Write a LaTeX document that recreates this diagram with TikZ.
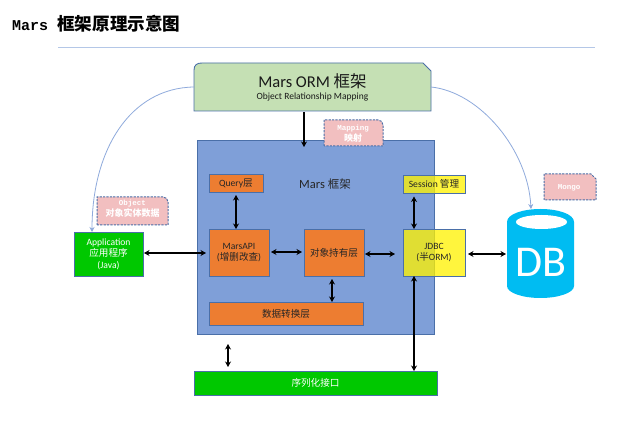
\documentclass[tikz,border=0pt]{standalone}
\usepackage{fontspec}
\setmainfont{Carlito}
\setmonofont{Liberation Mono}
\newfontfamily\cjk{Noto Sans CJK SC}
\usetikzlibrary{arrows.meta,calc}
\definecolor{edgeblue}{HTML}{4A6FA8}
\definecolor{lineblue}{HTML}{8FAADC}
\definecolor{rulecol}{HTML}{B4C7E7}
\definecolor{mainblue}{HTML}{7F9FD8}
\definecolor{ormgreen}{HTML}{C5E0B4}
\definecolor{orangefill}{HTML}{ED7D31}
\definecolor{greenfill}{HTML}{00C800}
\definecolor{pinkfill}{HTML}{F2BFC0}
\definecolor{dbblue}{HTML}{00BCF2}
\tikzset{
  x=1pt,y=-1pt,
  box/.style={draw=edgeblue,line width=0.9pt,anchor=north west,outer sep=0pt,inner sep=0pt,align=center,font=\fontsize{9.6}{11.5}\selectfont},
  orangebox/.style={box,fill=orangefill,text=black!85},
  yellowbox/.style={box,fill=yellow,fill opacity=.76,text opacity=1,text=black!85},
  greenbox/.style={box,fill=greenfill,text=white},
  callout/.style={draw=edgeblue,line width=1pt,dash pattern=on 2.2pt off 1.2pt,fill=pinkfill},
  noteb/.style={inner sep=0pt,align=center,text=white,font=\fontsize{7.5}{11}\ttfamily\bfseries},
  dbl/.style={{Stealth[length=5.5pt,width=6pt]}-{Stealth[length=5.5pt,width=6pt]},line width=1.6pt,black},
  sgl/.style={-{Stealth[length=5.5pt,width=6pt]},line width=1.6pt,black},
  curvy/.style={draw=lineblue,line width=0.8pt,-{Stealth[length=5pt,width=5pt,fill=edgeblue!80!lineblue]}},
}
\begin{document}
\begin{tikzpicture}
\useasboundingbox (0,0) rectangle (643,438);
\fill[white] (0,0) rectangle (643,438);
% title
\node[anchor=west,inner sep=0pt,font=\fontsize{15}{18}\ttfamily\bfseries] (title) at (12,24) {Mars {\cjk\bfseries\fontsize{17.6}{18}\selectfont 框架原理示意图}};
\coordinate (ruleL) at (58,47.5); \coordinate (ruleR) at (595,47.5);
\draw[rulecol,line width=1.1pt] (ruleL) -- (ruleR);
% main
\node[box,fill=mainblue,minimum width=237.5pt,minimum height=194pt] (main) at (197,140) {};
\node[inner sep=0pt,font=\fontsize{12.5}{14}\selectfont,text=black!85] (mainT) at (325,184) {Mars {\cjk\fontsize{11.5}{14}\selectfont 框架}};
% ORM
\draw[draw=edgeblue,line width=0.9pt,fill=ormgreen] (194,111) -- (194,70) .. controls (194,65) and (197,63) .. (202,63) -- (423,63) -- (431,71) -- (431,111) -- cycle;
\node[inner sep=0pt,outer sep=0pt,minimum width=237pt,minimum height=48pt,align=center,text=black!90] (orm) at (312.5,87) {\fontsize{16.5}{19}\selectfont Mars ORM {\cjk 框架}\\[0pt]\fontsize{9.5}{11}\selectfont Object Relationship Mapping};
% inner boxes
\node[orangebox,minimum width=54pt,minimum height=18pt] (query) at (209,174) {Query{\cjk 层}};
\node[orangebox,minimum width=60pt,minimum height=47pt] (api) at (209,229) {MarsAPI\\({\cjk 增删改查})};
\node[orangebox,minimum width=60pt,minimum height=47pt] (hold) at (304,229) {\cjk 对象持有层};
\node[orangebox,minimum width=154pt,minimum height=23pt] (conv) at (209,302) {\cjk 数据转换层};
\node[yellowbox,minimum width=62pt,minimum height=18.5pt] (sess) at (403,175) {Session {\cjk 管理}};
\node[yellowbox,minimum width=62pt,minimum height=47pt] (jdbc) at (403,229) {JDBC\\({\cjk 半}ORM)};
\node[greenbox,minimum width=243pt,minimum height=24pt] (ser) at (194,371) {\cjk 序列化接口};
\node[greenbox,minimum width=69pt,minimum height=44pt] (app) at (74,232) {Application\\{\cjk 应用程序}\\(Java)};
% DB
\fill[dbblue] (507,222) .. controls (507,214) and (523,209) .. (540.5,209) .. controls (558,209) and (574,214) .. (574,222) -- (574,286) .. controls (574,293) and (558,298) .. (540.5,298) .. controls (523,298) and (507,293) .. (507,286) -- cycle;
\fill[white] (541.5,222) ellipse[x radius=25.5,y radius=7];
\node[inner sep=0pt,text=white,font=\fontsize{44}{46}\selectfont] (db) at (541,262) {DB};
\coordinate (dbT) at (531,209);
\coordinate (dbL) at (506,254);
% callouts
\draw[callout] (97,225) -- (97,197) -- (163,197) .. controls (166,197) and (168,199) .. (168,202) -- (168,225) -- cycle;
\node[noteb] (nObj) at (132.5,209) {Object\\{\cjk\bfseries\fontsize{9}{11}\selectfont 对象实体数据}};
\draw[callout] (324,146) -- (324,120) -- (378,120) .. controls (381,120) and (383,122) .. (383,125) -- (383,146) -- cycle;
\node[noteb] (nMap) at (353,134) {Mapping\\{\cjk\bfseries\fontsize{9}{11}\selectfont 映射}};
\draw[callout] (544,200) -- (544,174) -- (591,174) -- (596,179) -- (596,200) -- cycle;
\node[noteb] (nMon) at (569,188) {Mongo};
% connectors
\draw[sgl] ($(orm.south -| 304,0)+(0,1)$) -- ($(main.north -| 304,0)+(0,7)$);
\coordinate (fa) at (228,344); \coordinate (fb) at (228,367);
\draw[dbl] (fa) -- (fb);
\draw[dbl] ($(query.south)+(0,3)$) -- ($(query.south |- api.north)$);
\coordinate (y1) at (0,253);
\draw[dbl] ($(app.east |- y1)+(1,0)$) -- ($(api.west |- y1)+(-3,0)$);
\coordinate (y2) at (0,252);
\draw[dbl] ($(api.east |- y2)+(2,0)$) -- ($(hold.west |- y2)+(-2,0)$);
\coordinate (y3) at (0,254);
\draw[dbl] ($(hold.east |- y3)+(1,0)$) -- ($(jdbc.west |- y3)+(-8,0)$);
\draw[dbl] ($(sess.south)+(-20,3)$) -- ($(jdbc.north)+(-20,0)$);
\draw[dbl] ($(jdbc.east |- y3)+(3,0)$) -- (dbL);
\draw[dbl] ($(jdbc.south)+(-20,0)$) -- ($(ser.north -| 414,0)$);
\draw[dbl] ($(hold.south)+(-2,3)$) -- ($(conv.north -| 332,0)$);
\draw[curvy] (orm.west) .. controls (130,88) and (92,150) .. (92,232);
\draw[curvy] (orm.east) .. controls (480,92) and (528,150) .. (dbT);
\end{tikzpicture}
\end{document}
